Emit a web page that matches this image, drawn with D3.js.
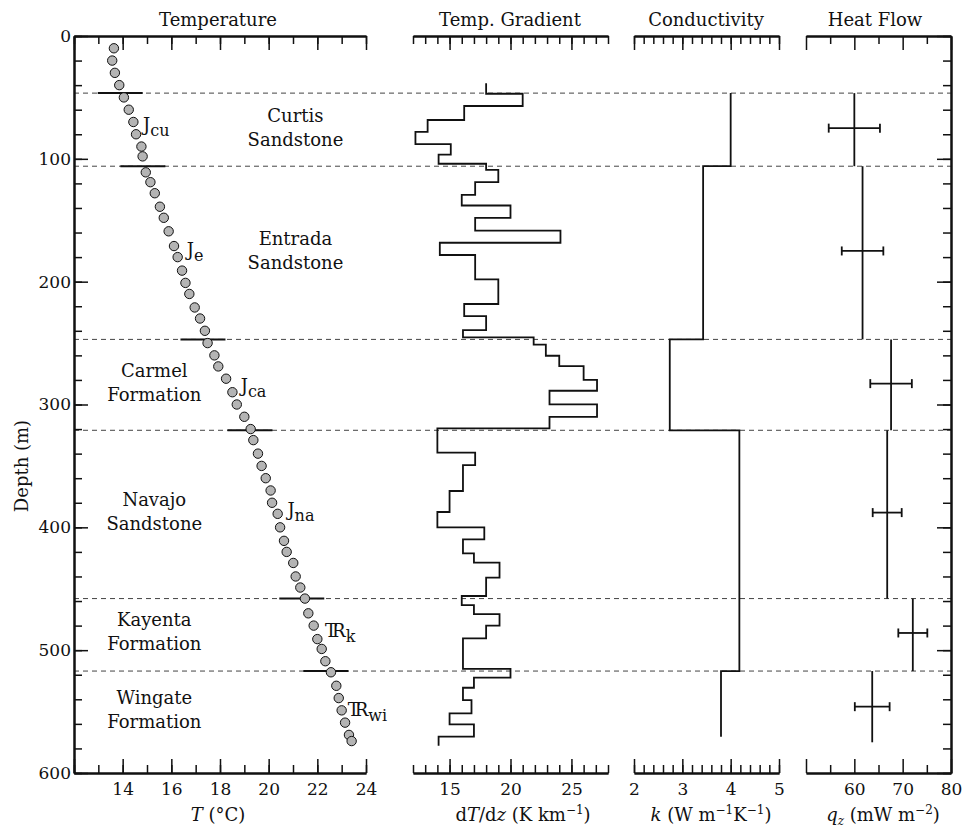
<!DOCTYPE HTML>
<head>
    <script src="https://cdn.jsdelivr.net/npm/d3@7"></script>
</head>

<body style="margin:0">
    <svg width="974" height="827"></svg>
</body>

<style>
text {
    font-family: "DejaVu Serif", serif;
    fill: #111;
}
.axis path {
    stroke: #111;
    stroke-width: 2;
}
.axis line {
    stroke: #111;
    stroke-width: 1.5;
}
.axis text {
    font-family: "DejaVu Serif", serif;
    font-size: 17px;
    fill: #111;
}
.title { font-size: 18px; }
.fm { font-size: 18px; }
</style>

<script>
    // temperature log (depth m, temperature C)
    var depthPts = [10,20,30,40,50,60,70,80,90,98,111,119,128,139,148,159,171,180,191,201,210,221,230,240,
                    250,260,269,279,290,300,310,320,329,340,350,360,370,380,389,400,411,420,429,440,449,458,
                    470,480,491,499,509,518,529,539,549,559,569,574];
    var tempPts = [13.64,13.57,13.68,13.86,14.05,14.25,14.44,14.55,14.77,14.82,14.95,15.14,15.32,15.53,15.69,
                   15.89,16.11,16.26,16.44,16.58,16.74,16.96,17.18,17.38,17.49,17.77,17.93,18.25,18.51,18.69,
                   19.0,19.26,19.37,19.56,19.71,19.88,20.08,20.14,20.37,20.47,20.63,20.74,21.01,21.11,21.3,
                   21.49,21.63,21.85,22.0,22.18,22.33,22.56,22.78,22.88,23.0,23.14,23.3,23.41];

    // formation contacts
    var contacts = [46.5, 106, 247, 321, 458, 517];
    var contactT = [13.9, 14.83, 17.3, 19.23, 21.36, 22.35];

    // temperature gradient, step intervals
    var gradEdges = [38.5,47,57,68.4,78,88,96.6,104,109,119,129.4,138,148,158.5,168.3,178.3,198.2,218.2,228,
                     239.4,245.3,251.3,260.3,268.7,280,288.8,299.9,310,319.4,339.2,349.3,370.4,387.5,400,
                     409.8,421.2,428.8,441,455.9,463.3,470.6,480,490.4,515.3,522.4,530.6,540.6,551.4,560.4,
                     570.4,577.8];
    var gradVals = [18,21,16.2,13.2,12.2,15.1,14.1,18,19,17.1,16,20,17.1,24.1,14.2,17.1,19,16.2,18,16.1,
                    21.9,22.9,24,26,27.1,23.2,27.1,23.2,14,17.1,16.1,15,14,17.85,16.1,17,19.1,18,16,17,
                    19.1,18,16.1,20,17,16.1,16.8,15,17,14.1];

    // conductivity
    var condEdges = [46.5, 106, 247, 321, 517, 570.4];
    var condVals = [4.0, 3.43, 2.74, 4.18, 3.8];

    // heat flow
    var hfTop = [46.5, 106, 247, 321, 458, 517];
    var hfBot = [106, 247, 321, 458, 517, 575];
    var hfVal = [60.0, 61.7, 67.6, 66.8, 72.1, 63.7];
    var hfErr = [5.3, 4.3, 4.3, 3.0, 3.0, 3.6];
    var hfErrDepth = [75, 175, 283, 388, 486, 546];

    var formations = [["Curtis", "Sandstone"], ["Entrada", "Sandstone"], ["Carmel", "Formation"],
                      ["Navajo", "Sandstone"], ["Kayenta", "Formation"], ["Wingate", "Formation"]];
    var formationT = [21.1, 21.1, 15.3, 15.3, 15.3, 15.3];
    var formationD = [70, 170.2, 277.6, 382.6, 480.1, 543.8];

    var units = [["J", "cu"], ["J", "e"], ["J", "ca"], ["J", "na"], ["TR", "k"], ["TR", "wi"]];
    var unitT = [14.84, 16.63, 18.85, 20.77, 22.32, 23.25];
    var unitD = [77, 179, 289.6, 391, 489, 553.6];

    var depthMajor = [0, 100, 200, 300, 400, 500, 600];
    var depthMinor = d3.range(0, 601, 20);

    var svg = d3.select("svg");

    var y = d3.scaleLinear().domain([0, 600]).range([36, 773]);
    var xT = d3.scaleLinear().domain([12, 24]).range([74, 366]);
    var xG = d3.scaleLinear().domain([12, 28]).range([413, 608]);
    var xK = d3.scaleLinear().domain([2, 5]).range([634, 779]);
    var xQ = d3.scaleLinear().domain([50, 80]).range([806, 951]);

    // dashed contact lines across all panels
    svg.selectAll(".contact")
        .data(contacts)
        .enter().append("line")
        .attr("class", "contact")
        .attr("x1", xT(12)).attr("x2", xQ(80))
        .attr("y1", function(d) { return y(d); })
        .attr("y2", function(d) { return y(d); })
        .attr("stroke", "#444")
        .attr("stroke-width", 1)
        .attr("stroke-dasharray", "5,4");

    function addAxis(orient, scale, majors, minors, tx, ty, labels, pad) {
        var mk = {top: d3.axisTop, bottom: d3.axisBottom, left: d3.axisLeft, right: d3.axisRight}[orient];
        var g = svg.append("g")
            .attr("class", "axis")
            .attr("transform", "translate(" + tx + "," + ty + ")");
        g.append("g").call(mk(scale).tickValues(minors).tickSize(-8).tickSizeOuter(0).tickFormat(""));
        g.append("g").call(mk(scale).tickValues(majors).tickSize(-14).tickSizeOuter(0)
            .tickPadding(pad || 4)
            .tickFormat(function(d) { return labels && labels.indexOf(d) >= 0 ? d : ""; }));
        return g;
    }

    // depth axes
    addAxis("left", y, depthMajor, depthMinor, xT(12), 0, depthMajor, 3);
    addAxis("right", y, depthMajor, depthMinor, xQ(80), 0, null);

    // temperature axes
    addAxis("top", xT, [12, 14, 16, 18, 20, 22, 24], d3.range(12, 24.1, 1), 0, y(0), null);
    addAxis("bottom", xT, [12, 14, 16, 18, 20, 22, 24], d3.range(12, 24.1, 1), 0, y(600), [14, 16, 18, 20, 22, 24], 10);

    // gradient axes
    addAxis("top", xG, [15, 20, 25], d3.range(12, 28.1, 1), 0, y(0), null);
    addAxis("bottom", xG, [15, 20, 25], d3.range(12, 28.1, 1), 0, y(600), [15, 20, 25], 10);

    // conductivity axes
    var kMinor = d3.range(0, 16).map(function(i) { return 2 + i * 0.2; });
    addAxis("top", xK, [2, 3, 4, 5], kMinor, 0, y(0), null);
    addAxis("bottom", xK, [2, 3, 4, 5], kMinor, 0, y(600), [2, 3, 4, 5], 10);

    // heat flow axes
    addAxis("top", xQ, [50, 60, 70, 80], [55, 65, 75], 0, y(0), null);
    addAxis("bottom", xQ, [50, 60, 70, 80], [55, 65, 75], 0, y(600), [60, 70, 80], 10);

    // contact bars on temperature panel
    svg.selectAll(".cbar")
        .data(contacts)
        .enter().append("line")
        .attr("class", "cbar")
        .attr("x1", function(d, i) { return xT(contactT[i]) - 22.5; })
        .attr("x2", function(d, i) { return xT(contactT[i]) + 22.5; })
        .attr("y1", function(d) { return y(d); })
        .attr("y2", function(d) { return y(d); })
        .attr("stroke", "#111")
        .attr("stroke-width", 2);

    // temperature points
    svg.selectAll(".point")
        .data(depthPts)
        .enter().append("circle")
        .attr("class", "point")
        .attr("cx", function(d, i) { return xT(tempPts[i]); })
        .attr("cy", function(d) { return y(d); })
        .attr("r", 4.7)
        .attr("fill", "#b4b4b4")
        .attr("stroke", "#111")
        .attr("stroke-width", 1);

    // step profiles
    function stepPoints(edges, vals) {
        var pts = [];
        vals.forEach(function(v, i) {
            pts.push([v, edges[i]], [v, edges[i + 1]]);
        });
        return pts;
    }

    svg.append("path")
        .datum(stepPoints(gradEdges, gradVals))
        .attr("fill", "none")
        .attr("stroke", "#111")
        .attr("stroke-width", 1.8)
        .attr("d", d3.line().x(function(p) { return xG(p[0]); }).y(function(p) { return y(p[1]); }));

    svg.append("path")
        .datum(stepPoints(condEdges, condVals))
        .attr("fill", "none")
        .attr("stroke", "#111")
        .attr("stroke-width", 1.8)
        .attr("d", d3.line().x(function(p) { return xK(p[0]); }).y(function(p) { return y(p[1]); }));

    // heat flow bars
    var hf = svg.append("g").attr("stroke", "#111").attr("stroke-width", 1.8);
    hfVal.forEach(function(q, i) {
        hf.append("line")
            .attr("x1", xQ(q)).attr("x2", xQ(q))
            .attr("y1", y(hfTop[i])).attr("y2", y(hfBot[i]));
        hf.append("line")
            .attr("x1", xQ(q - hfErr[i])).attr("x2", xQ(q + hfErr[i]))
            .attr("y1", y(hfErrDepth[i])).attr("y2", y(hfErrDepth[i]));
        [q - hfErr[i], q + hfErr[i]].forEach(function(e) {
            hf.append("line")
                .attr("x1", xQ(e)).attr("x2", xQ(e))
                .attr("y1", y(hfErrDepth[i]) - 4.5).attr("y2", y(hfErrDepth[i]) + 4.5);
        });
    });

    // formation names
    formations.forEach(function(f, i) {
        f.forEach(function(line, j) {
            svg.append("text")
                .attr("class", "fm")
                .attr("x", xT(formationT[i]))
                .attr("y", y(formationD[i]) + j * 24)
                .attr("text-anchor", "middle")
                .text(line);
        });
    });

    // unit symbols (Triassic sign drawn as an overlapped TR)
    units.forEach(function(u, i) {
        var t = svg.append("text")
            .attr("class", "fm")
            .attr("x", xT(unitT[i]))
            .attr("y", y(unitD[i]));
        if (u[0] == "TR") {
            t.append("tspan").style("letter-spacing", "-5px").text("TR");
            t.append("tspan").attr("dx", 5).attr("dy", 5).attr("font-size", 16).text(u[1]);
        } else {
            t.append("tspan").text(u[0]);
            t.append("tspan").attr("dy", 5).attr("font-size", 16).text(u[1]);
        }
    });

    // panel titles
    var titles = [["Temperature", 218], ["Temp. Gradient", 510], ["Conductivity", 706], ["Heat Flow", 875]];
    titles.forEach(function(t) {
        svg.append("text")
            .attr("class", "title")
            .attr("x", t[1]).attr("y", 26)
            .attr("text-anchor", "middle")
            .text(t[0]);
    });

    // axis titles
    var tt = svg.append("text").attr("class", "title").attr("x", 218).attr("y", 821).attr("text-anchor", "middle");
    tt.append("tspan").attr("font-style", "italic").text("T");
    tt.append("tspan").text("  (°C)");

    var tg = svg.append("text").attr("class", "title").attr("x", 523).attr("y", 821).attr("text-anchor", "middle");
    tg.append("tspan").text("d");
    tg.append("tspan").attr("font-style", "italic").text("T");
    tg.append("tspan").text("/d");
    tg.append("tspan").attr("font-style", "italic").text("z");
    tg.append("tspan").text("  (K km");
    tg.append("tspan").attr("dy", -7).attr("font-size", 12).text("−1");
    tg.append("tspan").attr("dy", 7).text(")");

    var tk = svg.append("text").attr("class", "title").attr("x", 711).attr("y", 821).attr("text-anchor", "middle");
    tk.append("tspan").attr("font-style", "italic").text("k");
    tk.append("tspan").text("  (W m");
    tk.append("tspan").attr("dy", -7).attr("font-size", 12).text("−1");
    tk.append("tspan").attr("dy", 7).text("K");
    tk.append("tspan").attr("dy", -7).attr("font-size", 12).text("−1");
    tk.append("tspan").attr("dy", 7).text(")");

    var tq = svg.append("text").attr("class", "title").attr("x", 883).attr("y", 821).attr("text-anchor", "middle");
    tq.append("tspan").attr("font-style", "italic").text("q");
    tq.append("tspan").attr("font-style", "italic").attr("dy", 4).attr("font-size", 12).text("z");
    tq.append("tspan").attr("dy", -4).text(" (mW m");
    tq.append("tspan").attr("dy", -7).attr("font-size", 12).text("−2");
    tq.append("tspan").attr("dy", 7).text(")");

    svg.append("text")
        .attr("class", "title")
        .attr("transform", "translate(28," + 466 + ") rotate(-90)")
        .attr("text-anchor", "middle")
        .text("Depth (m)");
</script>
